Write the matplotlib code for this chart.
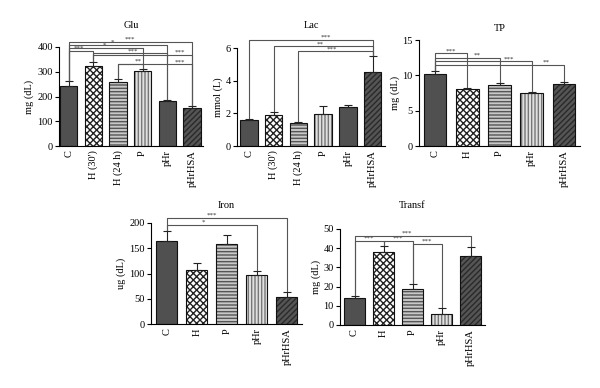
import numpy as np
import matplotlib
matplotlib.use("Agg")
import matplotlib.pyplot as plt

plt.rcParams['font.family'] = ['Liberation Serif', 'DejaVu Serif']

# data
glu_labels = ["C", "H (30')", "H (24 h)", "P", "pHr", "pHrHSA"]
glu_vals = [243, 325, 260, 303, 180, 152]
glu_err = [18, 14, 10, 10, 4, 10]

lac_labels = ["C", "H (30')", "H (24 h)", "P", "pHr", "pHrHSA"]
lac_vals = [1.6, 1.92, 1.4, 1.95, 2.4, 4.55]
lac_err = [0.08, 0.15, 0.1, 0.5, 0.1, 0.95]

tp_labels = ["C", "H", "P", "pHr", "pHrHSA"]
tp_vals = [10.2, 8.05, 8.65, 7.5, 8.8]
tp_err = [0.4, 0.12, 0.2, 0.1, 0.3]

iron_labels = ["C", "H", "P", "pHr", "pHrHSA"]
iron_vals = [165, 107, 158, 98, 54]
iron_err = [20, 13, 18, 6, 9]

transf_labels = ["C", "H", "P", "pHr", "pHrHSA"]
transf_vals = [14, 38, 18.5, 5.8, 36]
transf_err = [1, 3, 3, 3, 4.5]

# significance brackets: (from, to, line y, text, text x)
glu_sig = [(0, 5, 422, '***', 2.5), (0, 4, 408, '*', 1.75), (0, 3, 396, '*', 1.45),
           (0, 1, 385, '***', 0.4), (1, 4, 374, '***', 2.6), (1, 5, 368, '***', 4.5),
           (2, 3, 333, '**', 2.8), (2, 5, 330, '***', 4.5)]
lac_sig = [(0, 5, 6.5, '***', 3.1), (1, 5, 6.1, '**', 2.9), (2, 5, 5.8, '***', 3.35)]
tp_sig = [(0, 1, 13.1, '***', 0.5), (0, 2, 12.5, '**', 1.3), (0, 3, 12.0, '***', 2.3),
          (0, 4, 11.5, '**', 3.45)]
iron_sig = [(0, 4, 210, '***', 1.5), (0, 3, 196, '*', 1.2)]
transf_sig = [(0, 4, 46.5, '***', 1.8), (0, 1, 43.8, '***', 0.5), (1, 2, 43.8, '***', 1.5),
              (2, 3, 42.3, '***', 2.5)]

# bar styles (face, hatch, hatch colour)
DARK = ('#505050', None, None)
CHECK = ('#ffffff', 'xxxxx', '#222222')
HLINE = ('#c8c8c8', '-----', '#555555')
VLINE = ('#e0e0e0', '|||||', '#777777')
DIAG = ('#555555', '//////', '#2a2a2a')

glu_styles = [DARK, CHECK, HLINE, VLINE, DARK, DIAG]
five_styles = [DARK, CHECK, HLINE, VLINE, DIAG]

fig = plt.figure(figsize=(6, 3.88), dpi=100)
W, H = 600.0, 388.0


def panel(px_left, px_right, px_top, px_bottom, labels, vals, err, styles, sig,
          yticks, ylabel, title, xlim, title_off):
    ax = fig.add_axes([px_left / W, 1 - px_bottom / H, (px_right - px_left) / W,
                       (px_bottom - px_top) / H])
    x = np.arange(len(vals))
    for i in range(len(vals)):
        fc, hatch, hc = styles[i]
        if hatch is None:
            ax.bar(x[i], vals[i], 0.7, color=fc, edgecolor='#111111', lw=0.8, zorder=2)
        else:
            ax.bar(x[i], vals[i], 0.7, color=fc, edgecolor=hc, hatch=hatch, lw=0, zorder=2)
            ax.bar(x[i], vals[i], 0.7, fill=False, edgecolor='#111111', lw=0.8, zorder=3)
    ax.errorbar(x, vals, yerr=[np.zeros(len(vals)), err], fmt='none', ecolor='#222222',
                elinewidth=0.8, capsize=3, capthick=0.8, zorder=4)
    top = np.array(vals) + np.array(err)
    span = yticks[-1]
    for a, b, y, txt, tx in sig:
        ax.plot([a, a, b, b], [top[a] + span * 0.01, y, y, top[b] + span * 0.01],
                color='#555555', lw=0.8, clip_on=False, zorder=5)
        ax.text(tx, y, txt, ha='center', va='bottom', fontsize=5,
                color='#333333', clip_on=False, linespacing=0.8)
    ax.set_xlim(*xlim)
    ax.set_ylim(0, span)
    ax.set_yticks(yticks)
    ax.set_xticks(x)
    ax.set_xticklabels(labels, rotation=90, fontsize=7.5)
    ax.tick_params(axis='y', labelsize=7.5, length=3, width=0.8, pad=1.5)
    ax.tick_params(axis='x', length=0, pad=3)
    for s in ['top', 'right']:
        ax.spines[s].set_visible(False)
    for s in ['left', 'bottom']:
        ax.spines[s].set_linewidth(0.8)
    ax.set_ylabel(ylabel, fontsize=7.5, labelpad=2)
    ax.text(0.5, 1 + title_off, title, transform=ax.transAxes, ha='center',
            va='center', fontsize=7.5)
    return ax


panel(59, 203, 47, 146, glu_labels, glu_vals, glu_err, glu_styles, glu_sig,
      [0, 100, 200, 300, 400], 'mg (dL)', 'Glu', (-0.4, 5.45), 0.22)
panel(237, 385, 48, 146, lac_labels, lac_vals, lac_err, glu_styles, lac_sig,
      [0, 2, 4, 6], 'mmol (L)', 'Lac', (-0.48, 5.5), 0.23)
panel(419, 580, 40, 146, tp_labels, tp_vals, tp_err, five_styles, tp_sig,
      [0, 5, 10, 15], 'mg (dL)', 'TP', (-0.5, 4.5), 0.11)
panel(151, 302, 223, 324, iron_labels, iron_vals, iron_err, five_styles, iron_sig,
      [0, 50, 100, 150, 200], 'ug (dL)', 'Iron', (-0.53, 4.5), 0.17)
panel(340, 485, 229, 325, transf_labels, transf_vals, transf_err, five_styles, transf_sig,
      [0, 10, 20, 30, 40, 50], 'mg (dL)', 'Transf', (-0.5, 4.5), 0.24)

fig.savefig('out.png', dpi=100)
